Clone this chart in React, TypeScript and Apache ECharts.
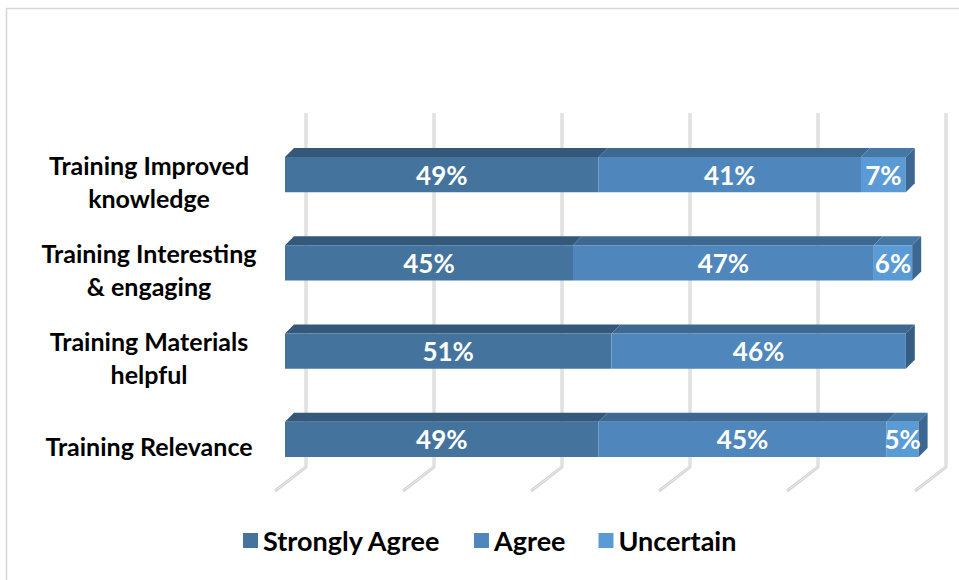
import React, { useEffect, useRef } from "react";
import * as echarts from "echarts";

const categories = [
  "Training Improved\nknowledge",
  "Training Interesting\n& engaging",
  "Training Materials\nhelpful",
  "Training Relevance",
];
const seriesNames = ["Strongly Agree", "Agree", "Uncertain"];
const stronglyAgree = [49, 45, 51, 49];
const agree = [41, 47, 46, 45];
const uncertain = [7, 6, 0, 5];
const gridTicks = [0, 20, 40, 60, 80, 100];

const FRONT = ["#44749e", "#4f87bd", "#5b9bd5"];
const TOP = ["#34587a", "#3d6891", "#4678a5"];
const SIDE = ["#2f5172", "#355d84", "#3c6790"];
const DX = 9;
const DY = 9;
const FONT = "Lato, 'Open Sans', sans-serif";

export default function App() {
  const ref = useRef<HTMLDivElement>(null);
  useEffect(() => {
    if (!ref.current) return;
    const chart = echarts.init(ref.current, null, { renderer: "svg" });
    const values = [stronglyAgree, agree, uncertain];
    const totals = categories.map((_, i) => values.reduce((a, v) => a + v[i], 0));

    const makeData = (s: number) =>
      categories.map((_, i) => {
        let start = 0;
        for (let k = 0; k < s; k++) start += values[k][i];
        return [start, start + values[s][i], i, totals[i]];
      });

    const makeRender = (s: number) => (params: any, api: any) => {
      const start = api.value(0);
      const end = api.value(1);
      const cat = api.value(2);
      const total = api.value(3);
      if (end - start <= 0) return null;
      const p0 = api.coord([start, cat]);
      const p1 = api.coord([end, cat]);
      const band = api.size([0, 1])[1];
      const h = band * 0.4;
      const top = p0[1] - h / 2;
      const bottom = p0[1] + h / 2;
      const x0 = p0[0];
      const x1 = p1[0];
      const children: any[] = [
        {
          type: "polygon",
          shape: { points: [[x0, top], [x0 + DX, top - DY], [x1 + DX, top - DY], [x1, top]] },
          style: { fill: TOP[s] },
        },
        {
          type: "rect",
          shape: { x: x0, y: top, width: x1 - x0, height: h },
          style: { fill: FRONT[s] },
        },
      ];
      if (end === total) {
        children.push({
          type: "polygon",
          shape: { points: [[x1, top], [x1 + DX, top - DY], [x1 + DX, bottom - DY], [x1, bottom]] },
          style: { fill: SIDE[s] },
        });
      }
      children.push({
        type: "text",
        style: {
          text: end - start + "%",
          x: (x0 + x1) / 2,
          y: p0[1],
          align: "center",
          verticalAlign: "middle",
          fill: "#ffffff",
          fontSize: 26,
          fontWeight: "bold",
          fontFamily: FONT,
        },
      });
      return { type: "group", children };
    };

    const gridRender = (params: any, api: any) => {
      const v = api.value(0);
      const t = api.coord([v, 1]);
      const b = api.coord([v, 0]);
      const pts = [[t[0], t[1]], [b[0], b[1]], [b[0] - 31, b[1] + 24]];
      return {
        type: "group",
        children: [
          { type: "polyline", shape: { points: pts }, style: { stroke: "#d2d2d2", lineWidth: 3, fill: "none" } },
          { type: "polyline", shape: { points: pts }, style: { stroke: "#efefef", lineWidth: 1, fill: "none" } },
        ],
      };
    };

    chart.setOption({
      animation: false,
      backgroundColor: "#ffffff",
      graphic: [
        {
          type: "rect",
          silent: true,
          z: -10,
          shape: { x: 6.5, y: 8.5, width: 1000, height: 1000 },
          style: { fill: "none", stroke: "#d6d6d6", lineWidth: 1.5 },
        },
      ],
      legend: {
        data: seriesNames,
        left: 238,
        top: 522,
        icon: "rect",
        itemWidth: 15,
        itemHeight: 15,
        itemGap: 33,
        textStyle: { fontSize: 27, fontWeight: "bold", fontFamily: FONT, color: "#000000" },
      },
      grid: [
        { left: 285, width: 640, top: 130.4, height: 353 },
        { left: 306, width: 640, top: 113, height: 354 },
        { left: 285, width: 640, top: 136.9, height: 353 },
      ],
      xAxis: [
        { type: "value", min: 0, max: 100, show: false, gridIndex: 0 },
        { type: "value", min: 0, max: 100, show: false, gridIndex: 1 },
        { type: "value", min: 0, max: 100, show: false, gridIndex: 2 },
      ],
      yAxis: [
        {
          type: "category",
          gridIndex: 0,
          inverse: true,
          data: categories,
          axisLine: { show: false },
          axisTick: { show: false },
          splitLine: { show: false },
          axisLabel: { show: false },
        },
        { type: "value", gridIndex: 1, min: 0, max: 1, show: false },
        {
          type: "category",
          gridIndex: 2,
          inverse: true,
          data: categories,
          axisLine: { show: false },
          axisTick: { show: false },
          splitLine: { show: false },
          axisLabel: {
            margin: 136,
            align: "center",
            fontSize: 25,
            fontWeight: "bold",
            fontFamily: FONT,
            color: "#000000",
            lineHeight: 33,
          },
        },
      ],
      series: [
        {
          type: "custom",
          name: "gridlines",
          xAxisIndex: 1,
          yAxisIndex: 1,
          silent: true,
          z: 1,
          encode: { x: 0 },
          data: gridTicks.map((v) => [v]),
          renderItem: gridRender,
        },
        ...seriesNames.map((name, s) => ({
          type: "custom",
          name,
          xAxisIndex: 0,
          yAxisIndex: 0,
          z: 2 + s,
          itemStyle: { color: FRONT[s] },
          encode: { x: [0, 1], y: 2 },
          data: makeData(s),
          renderItem: makeRender(s),
        })),
      ],
    });
    return () => chart.dispose();
  }, []);
  return (
    <div
      ref={ref}
      style={{ position: "fixed", left: 0, top: 0, width: 959, height: 580 }}
    />
  );
}
